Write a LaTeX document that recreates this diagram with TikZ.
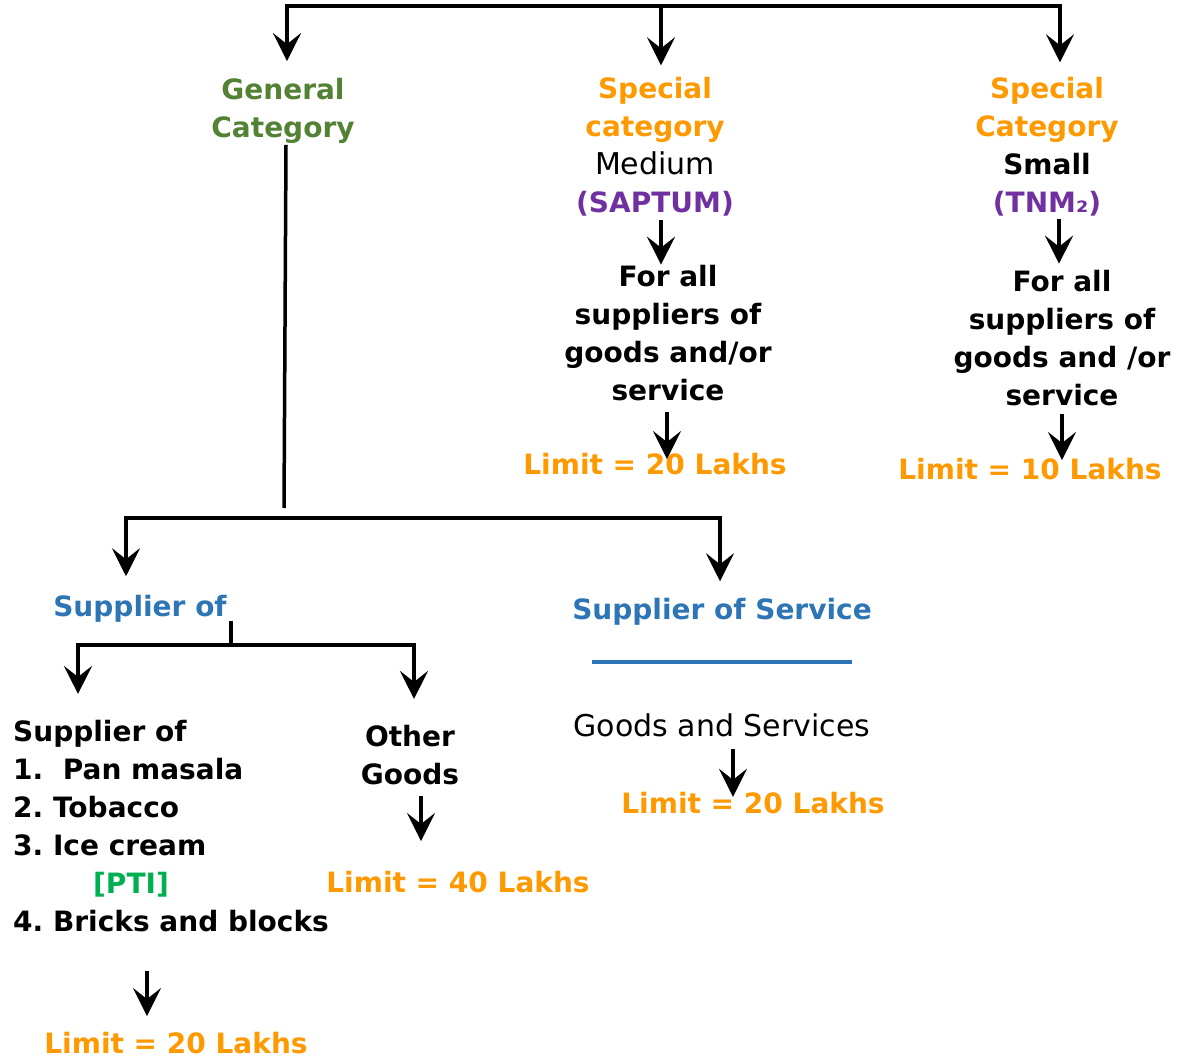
\documentclass[tikz,border=0pt]{standalone}
\usepackage{fontspec}
\setmainfont{DejaVu Sans}
\usetikzlibrary{positioning}
\usetikzlibrary{arrows.meta}
\definecolor{genGreen}{RGB}{84,130,53}
\definecolor{spOrange}{RGB}{255,153,0}
\definecolor{spPurple}{RGB}{112,48,160}
\definecolor{supBlue}{RGB}{46,117,182}
\definecolor{ptiGreen}{RGB}{0,176,80}
\frenchspacing

\begin{document}
\begin{tikzpicture}
    [
    x=1pt, y=-1pt,
    every node/.style={font=\fontsize{28}{38}\selectfont\bfseries, inner sep=1pt, align=center},
    plain/.style={font=\fontsize{30}{38}\selectfont\mdseries},
    link/.style={line width=3.5pt},
    arr/.style={link, -{Stealth[length=28pt, width=28pt, inset=11pt]}},
    limit/.style={text=spOrange},
    underline/.style={draw=supBlue, line width=3.5pt},
    ]

    \useasboundingbox (0,0) rectangle (1179,1059);

    \node[text=genGreen] (cat_general) at (283,111) {General\\Category};
    \node (cat_medium) at (655,147)
    {\textcolor{spOrange}{Special}\\\textcolor{spOrange}{category}\\{\fontsize{30}{38}\selectfont\mdseries Medium}\\\textcolor{spPurple}{(SAPTUM)}};
    \node (cat_small) at (1047,147)
    {\textcolor{spOrange}{Special}\\\textcolor{spOrange}{Category}\\Small\\\textcolor{spPurple}{(TNM₂)}};

    \node (all_medium) at (668,333) {For all\\suppliers of\\goods and/or\\service};
    \node (all_small) at (1062,338) {For all\\suppliers of\\goods and /or\\service};
    \node[limit] (lim_medium) at (655,464) {Limit = 20 Lakhs};
    \node[limit] (lim_small) at (1030,469) {Limit = 10 Lakhs};

    \coordinate (top_left) at (287,6);
    \coordinate (top_mid) at (661,6);
    \coordinate (top_right) at (1060,6);
    \draw[arr, shorten >=16pt] (top_right) -- (top_left) -- (top_left |- cat_general.north);
    \draw[arr, shorten >=14pt] (top_left) -- (top_right) -- (top_right |- cat_small.north);
    \draw[arr, shorten >=11pt] (top_mid) -- (top_mid |- cat_medium.north);

    \draw[arr] (cat_medium.south) ++(6,2) -- ++(0,45);
    \draw[arr] (all_medium.south) ++(-1,10) -- ++(0,47);
    \draw[arr] (cat_small.south) ++(12,1) -- ++(0,45);
    \draw[arr] (all_small.south) ++(0,7) -- ++(0,46);

    \node[text=supBlue] (sup_goods) at (140,609) {Supplier of};
    \node[text=supBlue] (sup_service) at (722,612) {Supplier of Service};

    \coordinate (gen_end) at (284,508);
    \coordinate (bar_left) at (126,518);
    \coordinate (bar_right) at (720,518);
    \draw[link] (cat_general.south) ++(3,0) -- (gen_end);
    \draw[arr, shorten >=18pt] (bar_right) -- (bar_left) -- (bar_left |- sup_goods.north);
    \draw[arr, shorten >=16pt] (bar_left) -- (bar_right) -- (bar_right |- sup_service.north);

    \draw[underline] (sup_service.south) ++(-130,35) -- ++(260,0);
    \node[plain] (goods_services) at (722,725) {Goods and Services};
    \node[limit] (lim_service) at (753,803) {Limit = 20 Lakhs};
    \draw[arr] (goods_services.south) ++(11,11) -- ++(0,48);

    \node[anchor=west, align=left] (list_goods) at (12,826)
    {Supplier of\\1.\ \ Pan masala\\2. Tobacco\\3. Ice cream\\\hspace*{80pt}\textcolor{ptiGreen}{[PTI]}\\4. Bricks and blocks};
    \node (other_goods) at (410,755) {Other\\Goods};
    \node[limit] (lim_other) at (458,882) {Limit = 40 Lakhs};
    \node[limit] (lim_list) at (176,1043) {Limit = 20 Lakhs};

    \coordinate (goods_split) at (231,621);
    \coordinate (goods_mid) at (231,645);
    \coordinate (goods_left) at (78,645);
    \coordinate (goods_right) at (414,645);
    \draw[link] (goods_split) -- (goods_mid);
    \draw[arr, shorten >=25pt] (goods_right) -- (goods_left) -- (goods_left |- list_goods.north);
    \draw[arr, shorten >=25pt] (goods_left) -- (goods_right) -- (goods_right |- other_goods.north);

    \draw[arr] (other_goods.south) ++(11,10) -- ++(0,45);
    \draw[arr] (list_goods.south west) ++(135,38) -- ++(0,45);
\end{tikzpicture}
\end{document}
